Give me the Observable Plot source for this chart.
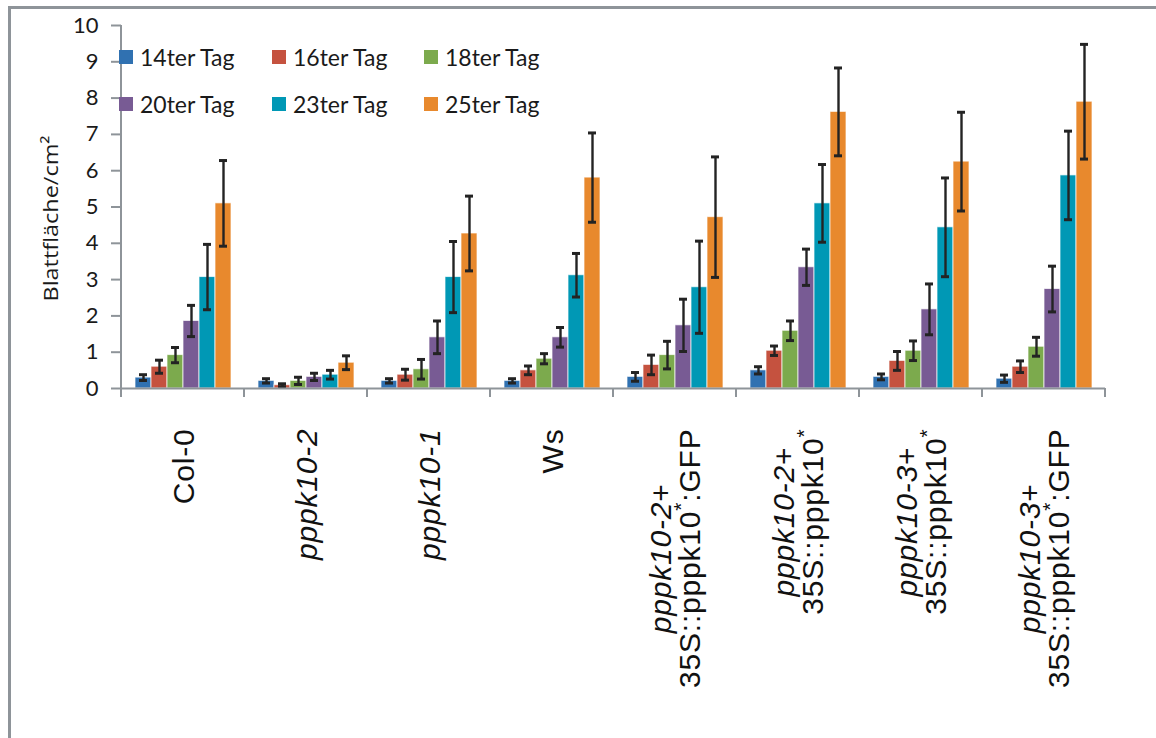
<!DOCTYPE html>
<html><head><meta charset="utf-8">
<script src="https://cdn.jsdelivr.net/npm/d3@7"></script>
<script src="https://cdn.jsdelivr.net/npm/@observablehq/plot@0.6"></script>
<style>
body{margin:0;background:#fff;}
#wrap{position:relative;width:1156px;height:738px;overflow:hidden;background:#fff;}
#border{position:absolute;left:8px;top:6px;right:-10px;bottom:-10px;border-top:3px solid #8e9499;border-left:3px solid #8e9499;pointer-events:none;}
#legend{position:absolute;left:119px;top:33px;display:grid;grid-template-columns:153px 152px 152px;grid-auto-rows:47px;font-family:Lato,"Open Sans",sans-serif;font-size:23px;color:#1a1a1a;}
#legend .it{display:flex;align-items:center;}
#legend .sw{width:14px;height:14px;margin-right:7px;}
svg g[aria-label="y-axis tick"] path{stroke:#8e9499;stroke-width:2;}
svg g[aria-label="y-axis tick label"] text{fill:#1a1a1a;}
</style>
</head><body>
<div id="wrap"><div id="legend"></div><div id="border"></div></div>
<script>
const groupLabels = [
  "Col-0",
  "_pppk10-2_",
  "_pppk10-1_",
  "Ws",
  "_pppk10-2_+\n35S::pppk10^*^:GFP",
  "_pppk10-2_+\n35S::pppk10^*^",
  "_pppk10-3_+\n35S::pppk10^*^",
  "_pppk10-3_+\n35S::pppk10^*^:GFP"
];
const series = ["14ter Tag","16ter Tag","18ter Tag","20ter Tag","23ter Tag","25ter Tag"];
const colors = ["#3071b1","#c5523f","#7caa4d","#785b94","#0098b5","#e8892d"];

const d14 = [0.30,0.21,0.21,0.21,0.32,0.50,0.32,0.27];
const d16 = [0.60,0.09,0.38,0.50,0.65,1.04,0.76,0.60];
const d18 = [0.92,0.21,0.53,0.82,0.92,1.59,1.04,1.15];
const d20 = [1.86,0.32,1.41,1.41,1.74,3.34,2.18,2.74];
const d23 = [3.07,0.38,3.07,3.12,2.79,5.10,4.44,5.87];
const d25 = [5.10,0.71,4.27,5.81,4.72,7.62,6.25,7.90];

const e14 = [0.08,0.06,0.06,0.06,0.12,0.10,0.08,0.10];
const e16 = [0.18,0.04,0.15,0.12,0.27,0.13,0.26,0.16];
const e18 = [0.21,0.10,0.27,0.14,0.38,0.27,0.27,0.26];
const e20 = [0.43,0.10,0.45,0.27,0.72,0.50,0.70,0.63];
const e23 = [0.90,0.12,0.98,0.60,1.27,1.07,1.36,1.22];
const e25 = [1.18,0.19,1.03,1.23,1.66,1.21,1.36,1.58];

const yLabel = "Blattfläche/cm²";

const values = [d14,d16,d18,d20,d23,d25];
const errors = [e14,e16,e18,e20,e23,e25];
const strip = s => s.replace(/[_^]/g, "");
const keyOf = s => strip(s).replace("\n", " ");
const rows = [];
series.forEach((s, i) => groupLabels.forEach((g, j) =>
  rows.push({group: keyOf(g), series: s, v: values[i][j], e: errors[i][j]})));

const errStroke = "#232323";
const chart = Plot.plot({
  width: 1156, height: 738,
  marginLeft: 117, marginRight: 48, marginTop: 25, marginBottom: 350,
  style: {background: "transparent", overflow: "visible"},
  fx: {domain: groupLabels.map(keyOf), padding: 0, axis: null},
  x: {domain: series, paddingInner: 0, paddingOuter: 0.8, axis: null},
  y: {domain: [0, 10]},
  color: {domain: series, range: colors},
  marks: [
    Plot.barY(rows, {fx: "group", x: "series", y: "v", fill: "series", stroke: "#fff", strokeWidth: 1, strokeOpacity: 0.7}),
    Plot.ruleX(rows, {fx: "group", x: "series", y1: d => d.v - d.e, y2: d => d.v + d.e, stroke: errStroke, strokeWidth: 2.4}),
    Plot.tickY(rows, {fx: "group", x: "series", y: d => d.v + d.e, stroke: errStroke, strokeWidth: 3, insetLeft: 4, insetRight: 4}),
    Plot.tickY(rows, {fx: "group", x: "series", y: d => d.v - d.e, stroke: errStroke, strokeWidth: 3, insetLeft: 4, insetRight: 4}),
    Plot.ruleY([0], {stroke: "#8e9499", strokeWidth: 2}),
    Plot.axisY({ticks: 10, tickSize: 10, tickPadding: 13, fontSize: 22, fontFamily: "Lato", label: null}),
    Plot.text(groupLabels, {fx: keyOf, text: strip, frameAnchor: "bottom", rotate: -90, textAnchor: "end",
      dy: 40, fontSize: 30, fontFamily: "Liberation Sans", fill: "#111", lineHeight: 0.95})
  ]
});
document.getElementById("wrap").prepend(chart);

// x-axis category labels: italic / superscript parts, lines centred with each other
const markupByText = new Map(groupLabels.map(m => [strip(m).replace("\n", ""), m]));
d3.select(chart).selectAll("text").each(function() {
  const m = markupByText.get(this.textContent);
  if (!m) return;
  const el = d3.select(this).attr("text-anchor", "start").style("letter-spacing", "0.8px");
  el.selectAll("*").remove();
  el.text(null);
  const lines = m.split("\n");
  const n = lines.length;
  const lineEls = lines.map((line, i) => {
    const t = el.append("tspan").attr("x", 0)
      .attr("y", `${((i - (n - 1) / 2) * 0.95 + 0.35).toFixed(3)}em`)
      .attr("text-anchor", "start");
    const re = /_([^_]+)_|\^([^^]+)\^|([^_^]+)/g;
    let mm;
    while ((mm = re.exec(line))) {
      if (mm[1]) t.append("tspan").attr("font-style", "italic").text(mm[1]);
      else if (mm[2]) t.append("tspan").attr("font-size", "0.7em").attr("baseline-shift", "55%").text(mm[2]);
      else t.append("tspan").text(mm[3]);
    }
    return t;
  });
  const widths = lineEls.map(t => t.node().getComputedTextLength());
  const maxW = Math.max(...widths);
  lineEls.forEach((t, i) => t.attr("x", -maxW + (maxW - widths[i]) / 2));
});

// y axis line, title and category boundary ticks, from the plot's scales
const fx = chart.scale("fx"), ys = chart.scale("y");
const y0 = ys.apply(0), y10 = ys.apply(10);
const svg = d3.select(chart);
const x0 = fx.apply(fx.domain[0]);
svg.append("line").attr("x1", x0).attr("x2", x0).attr("y1", y10).attr("y2", y0 + 1)
  .attr("stroke", "#8e9499").attr("stroke-width", 2);
const edges = fx.domain.map(d => fx.apply(d));
edges.push(fx.apply(fx.domain[fx.domain.length - 1]) + fx.bandwidth);
edges.forEach(x => svg.append("line").attr("x1", x).attr("x2", x).attr("y1", y0).attr("y2", y0 + 9)
  .attr("stroke", "#8e9499").attr("stroke-width", 2));
svg.append("text").attr("transform", `translate(${x0 - 63},${(y0 + y10) / 2 + 12}) rotate(-90)`)
  .attr("text-anchor", "middle").attr("font-family", "Open Sans").attr("font-size", 20).attr("fill", "#1a1a1a")
  .attr("textLength", 166).attr("lengthAdjust", "spacingAndGlyphs")
  .text(yLabel);

// legend
const lg = d3.select("#legend");
series.forEach((s, i) => {
  const it = lg.append("div").attr("class", "it");
  it.append("div").attr("class", "sw").style("background", colors[i]);
  it.append("span").text(s);
});
</script>
</body></html>
